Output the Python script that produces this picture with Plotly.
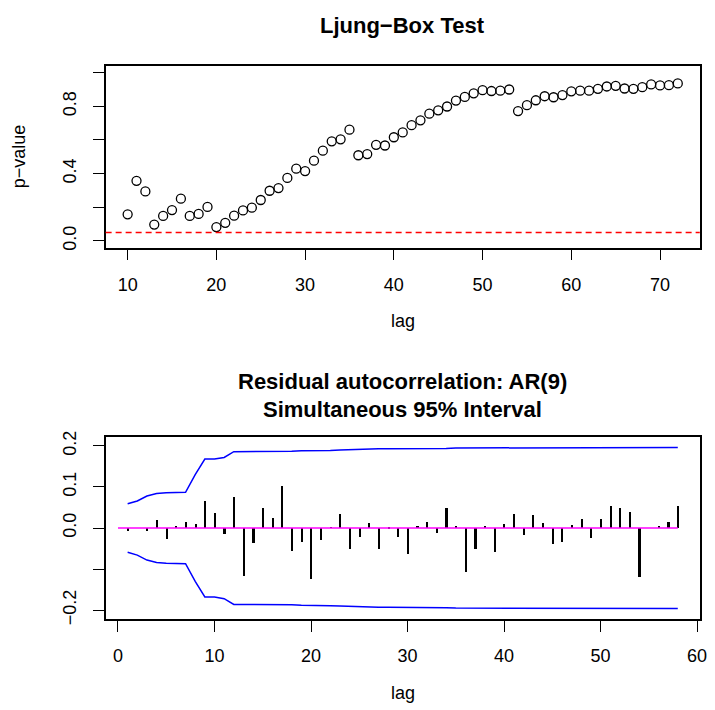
import plotly.graph_objects as go
from plotly.subplots import make_subplots

# Ljung-Box p-values, lags 10..72
lb_lags = list(range(10, 73))
lb_pvalues = [
    0.158, 0.357, 0.294, 0.097, 0.148, 0.183, 0.251, 0.148, 0.160, 0.202,
    0.082, 0.107, 0.150, 0.181, 0.197, 0.243, 0.298, 0.314, 0.374, 0.429,
    0.415, 0.477, 0.536, 0.592, 0.604, 0.661, 0.509, 0.516, 0.571, 0.567,
    0.616, 0.645, 0.688, 0.717, 0.756, 0.776, 0.799, 0.834, 0.856, 0.877,
    0.896, 0.891, 0.893, 0.900, 0.772, 0.807, 0.836, 0.860, 0.854, 0.867,
    0.889, 0.893, 0.893, 0.904, 0.918, 0.922, 0.906, 0.904, 0.914, 0.930,
    0.924, 0.926, 0.936,
]
alpha = 0.05

# residual autocorrelations, lags 1..58
acf_lags = list(range(1, 59))
acf_values = [
    -0.008, 0.000, -0.008, 0.019, -0.027, 0.002, 0.014, 0.009, 0.065, 0.035,
    -0.015, 0.074, -0.118, -0.036, 0.048, 0.024, 0.101, -0.057, -0.034, -0.124,
    -0.030, 0.001, 0.034, -0.052, -0.022, 0.012, -0.052, -0.003, -0.022, -0.064,
    0.002, 0.013, -0.012, 0.048, 0.002, -0.107, -0.052, 0.003, -0.058, 0.010,
    0.033, -0.018, 0.030, 0.011, -0.039, -0.034, 0.006, 0.022, -0.026, 0.021,
    0.054, 0.049, 0.038, -0.121, 0.000, 0.002, 0.014, 0.052,
]
upper = [
    0.059, 0.066, 0.078, 0.084, 0.086, 0.086, 0.087, 0.130, 0.168, 0.168,
    0.172, 0.186, 0.186, 0.186, 0.187, 0.187, 0.187, 0.187, 0.188, 0.188,
    0.188, 0.189, 0.190, 0.191, 0.192, 0.192, 0.193, 0.193, 0.193, 0.194,
    0.194, 0.194, 0.194, 0.194, 0.195, 0.195, 0.195, 0.195, 0.195, 0.195,
    0.195, 0.195, 0.195, 0.195, 0.196, 0.196, 0.196, 0.196, 0.196, 0.196,
    0.196, 0.196, 0.196, 0.196, 0.196, 0.196, 0.196, 0.196,
]
lower = [
    -0.059, -0.066, -0.078, -0.084, -0.086, -0.086, -0.087, -0.130, -0.168, -0.168,
    -0.172, -0.186, -0.186, -0.186, -0.187, -0.187, -0.187, -0.187, -0.188, -0.188,
    -0.188, -0.189, -0.190, -0.191, -0.192, -0.192, -0.193, -0.193, -0.193, -0.194,
    -0.194, -0.194, -0.194, -0.194, -0.195, -0.195, -0.195, -0.195, -0.195, -0.195,
    -0.195, -0.195, -0.195, -0.195, -0.196, -0.196, -0.196, -0.196, -0.196, -0.196,
    -0.196, -0.196, -0.196, -0.196, -0.196, -0.196, -0.196, -0.196,
]

FONT = "Liberation Sans, Arial, sans-serif"

fig = make_subplots(rows=2, cols=1)

fig.add_trace(go.Scatter(
    x=lb_lags, y=lb_pvalues, mode="markers",
    marker=dict(symbol="circle-open", size=9, color="black", line=dict(width=1.3)),
), row=1, col=1)

fig.add_trace(go.Bar(
    x=acf_lags, y=acf_values, width=0.22, marker=dict(color="black", line=dict(width=0)),
), row=2, col=1)
fig.add_trace(go.Scatter(
    x=[0, acf_lags[-1]], y=[0, 0], mode="lines", line=dict(color="magenta", width=1.5),
), row=2, col=1)
fig.add_trace(go.Scatter(
    x=acf_lags, y=upper, mode="lines", line=dict(color="blue", width=1.5),
), row=2, col=1)
fig.add_trace(go.Scatter(
    x=acf_lags, y=lower, mode="lines", line=dict(color="blue", width=1.5),
), row=2, col=1)

# significance level line
fig.add_shape(type="line", xref="x domain", x0=0, x1=1, yref="y", y0=alpha, y1=alpha,
              line=dict(color="red", width=1.5, dash="6px,4px"))

axis_common = dict(
    showline=True, mirror=True, linecolor="black", linewidth=1.5,
    ticks="outside", ticklen=11, tickcolor="black", tickwidth=1.2,
    showgrid=False, zeroline=False,
    tickfont=dict(family=FONT, size=18, color="black"),
)

fig.update_layout(
    width=715, height=710,
    margin=dict(l=0, r=0, t=0, b=0),
    paper_bgcolor="white", plot_bgcolor="white",
    showlegend=False,
    bargap=0,
    xaxis=dict(domain=[0.1492, 0.9884], range=[7.52, 74.48],
               tickvals=[10, 20, 30, 40, 50, 60, 70], ticklabelstandoff=9, **axis_common),
    yaxis=dict(domain=[0.6539, 0.9141], range=[-0.04, 1.04],
               tickvals=[0, 0.2, 0.4, 0.6, 0.8, 1.0],
               ticktext=["0.0", "", "0.4", "", "0.8", ""],
               tickangle=-90, ticklabelstandoff=10, **axis_common),
    xaxis2=dict(domain=[0.1492, 0.9884], range=[-1.28, 60.28],
                tickvals=[0, 10, 20, 30, 40, 50, 60], ticklabelstandoff=9, **axis_common),
    yaxis2=dict(domain=[0.1221, 0.3821], range=[-0.221, 0.221],
                tickvals=[-0.2, -0.1, 0, 0.1, 0.2],
                ticktext=["\u22120.2", "", "0.0", "0.1", "0.2"],
                tickangle=-90, ticklabelstandoff=10, **axis_common),
)

cx = 0.5688
title_font = dict(family=FONT, size=22, color="black")
label_font = dict(family=FONT, size=18, color="black")
notes = [
    dict(text="<b>Ljung\u2212Box Test</b>", x=cx, y=1 - 20 / 710, font=title_font),
    dict(text="lag", x=cx, y=1 - 320 / 710, font=label_font),
    dict(text="p\u2212value", x=20 / 715, y=1 - 153 / 710, font=label_font, textangle=-90),
    dict(text="<b>Residual autocorrelation: AR(9)</b>", x=cx, y=1 - 382 / 710, font=title_font),
    dict(text="<b>Simultaneous 95% Interval</b>", x=cx, y=1 - 410 / 710, font=title_font),
    dict(text="lag", x=cx, y=1 - 699 / 710, font=label_font),
]
for n in notes:
    fig.add_annotation(xref="paper", yref="paper", xanchor="center", yanchor="middle",
                       showarrow=False, **n)

fig.write_html("out.html", config={"displayModeBar": False},
               post_script="document.body.style.margin='0';")
